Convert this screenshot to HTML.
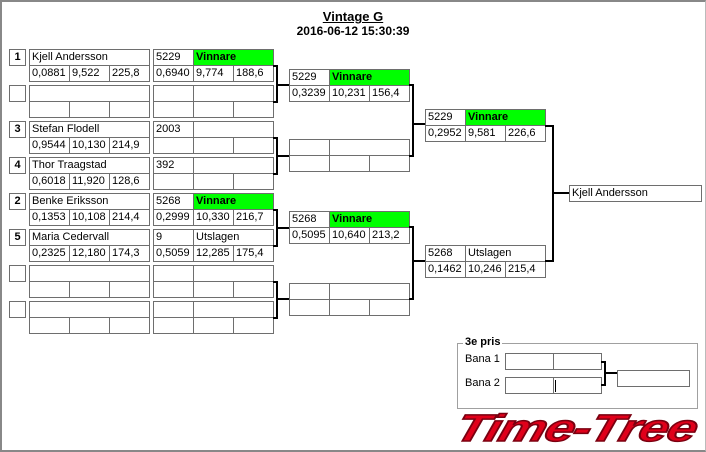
<!DOCTYPE html>
<html><head><meta charset="utf-8"><style>
body{margin:0;width:706px;height:452px;background:#fff;position:relative;overflow:hidden;font-family:"Liberation Sans",sans-serif;font-size:11px;color:#000}
.frame{position:absolute;left:0;top:0;width:706px;height:452px;box-sizing:border-box;border:2px solid #888;border-right:1px solid #bbb}
.c{position:absolute;box-sizing:border-box;border:1px solid #6e6e6e;height:17px;line-height:15px;padding-left:2px;white-space:nowrap;overflow:hidden;background:#fff}
.g{background:#00ff00;font-weight:bold}
.s{position:absolute;box-sizing:border-box;border:1px solid #6e6e6e;width:17px;height:17px;line-height:15px;text-align:center;font-weight:bold}
.br{position:absolute;box-sizing:border-box;border:2px solid #000;border-left:none}
.h{position:absolute;height:2px;background:#000}
.t{position:absolute;font-weight:bold;font-size:12px;text-align:center;width:706px;left:0}
</style></head><body>
<div class="frame"></div>
<div class="t" style="top:9px;text-decoration:underline;font-size:13px">Vintage G</div>
<div class="t" style="top:24px">2016-06-12 15:30:39</div>

<div class="s" style="left:9px;top:49px">1</div>
<div class="c" style="left:29px;top:49px;width:121px">Kjell Andersson</div>
<div class="c" style="left:29px;top:65px;width:41px">0,0881</div><div class="c" style="left:69px;top:65px;width:41px">9,522</div><div class="c" style="left:109px;top:65px;width:41px">225,8</div>
<div class="c" style="left:153px;top:49px;width:41px">5229</div><div class="c g" style="left:193px;top:49px;width:81px">Vinnare</div>
<div class="c" style="left:153px;top:65px;width:41px">0,6940</div><div class="c" style="left:193px;top:65px;width:41px">9,774</div><div class="c" style="left:233px;top:65px;width:41px">188,6</div>

<div class="s" style="left:9px;top:85px"></div>
<div class="c" style="left:29px;top:85px;width:121px"></div>
<div class="c" style="left:29px;top:101px;width:41px"></div><div class="c" style="left:69px;top:101px;width:41px"></div><div class="c" style="left:109px;top:101px;width:41px"></div>
<div class="c" style="left:153px;top:85px;width:41px"></div><div class="c" style="left:193px;top:85px;width:81px"></div>
<div class="c" style="left:153px;top:101px;width:41px"></div><div class="c" style="left:193px;top:101px;width:41px"></div><div class="c" style="left:233px;top:101px;width:41px"></div>

<div class="s" style="left:9px;top:121px">3</div>
<div class="c" style="left:29px;top:121px;width:121px">Stefan Flodell</div>
<div class="c" style="left:29px;top:137px;width:41px">0,9544</div><div class="c" style="left:69px;top:137px;width:41px">10,130</div><div class="c" style="left:109px;top:137px;width:41px">214,9</div>
<div class="c" style="left:153px;top:121px;width:41px">2003</div><div class="c" style="left:193px;top:121px;width:81px"></div>
<div class="c" style="left:153px;top:137px;width:41px"></div><div class="c" style="left:193px;top:137px;width:41px"></div><div class="c" style="left:233px;top:137px;width:41px"></div>

<div class="s" style="left:9px;top:157px">4</div>
<div class="c" style="left:29px;top:157px;width:121px">Thor Traagstad</div>
<div class="c" style="left:29px;top:173px;width:41px">0,6018</div><div class="c" style="left:69px;top:173px;width:41px">11,920</div><div class="c" style="left:109px;top:173px;width:41px">128,6</div>
<div class="c" style="left:153px;top:157px;width:41px">392</div><div class="c" style="left:193px;top:157px;width:81px"></div>
<div class="c" style="left:153px;top:173px;width:41px"></div><div class="c" style="left:193px;top:173px;width:41px"></div><div class="c" style="left:233px;top:173px;width:41px"></div>

<div class="s" style="left:9px;top:193px">2</div>
<div class="c" style="left:29px;top:193px;width:121px">Benke Eriksson</div>
<div class="c" style="left:29px;top:209px;width:41px">0,1353</div><div class="c" style="left:69px;top:209px;width:41px">10,108</div><div class="c" style="left:109px;top:209px;width:41px">214,4</div>
<div class="c" style="left:153px;top:193px;width:41px">5268</div><div class="c g" style="left:193px;top:193px;width:81px">Vinnare</div>
<div class="c" style="left:153px;top:209px;width:41px">0,2999</div><div class="c" style="left:193px;top:209px;width:41px">10,330</div><div class="c" style="left:233px;top:209px;width:41px">216,7</div>

<div class="s" style="left:9px;top:229px">5</div>
<div class="c" style="left:29px;top:229px;width:121px">Maria Cedervall</div>
<div class="c" style="left:29px;top:245px;width:41px">0,2325</div><div class="c" style="left:69px;top:245px;width:41px">12,180</div><div class="c" style="left:109px;top:245px;width:41px">174,3</div>
<div class="c" style="left:153px;top:229px;width:41px">9</div><div class="c" style="left:193px;top:229px;width:81px">Utslagen</div>
<div class="c" style="left:153px;top:245px;width:41px">0,5059</div><div class="c" style="left:193px;top:245px;width:41px">12,285</div><div class="c" style="left:233px;top:245px;width:41px">175,4</div>

<div class="s" style="left:9px;top:265px"></div>
<div class="c" style="left:29px;top:265px;width:121px"></div>
<div class="c" style="left:29px;top:281px;width:41px"></div><div class="c" style="left:69px;top:281px;width:41px"></div><div class="c" style="left:109px;top:281px;width:41px"></div>
<div class="c" style="left:153px;top:265px;width:41px"></div><div class="c" style="left:193px;top:265px;width:81px"></div>
<div class="c" style="left:153px;top:281px;width:41px"></div><div class="c" style="left:193px;top:281px;width:41px"></div><div class="c" style="left:233px;top:281px;width:41px"></div>

<div class="s" style="left:9px;top:301px"></div>
<div class="c" style="left:29px;top:301px;width:121px"></div>
<div class="c" style="left:29px;top:317px;width:41px"></div><div class="c" style="left:69px;top:317px;width:41px"></div><div class="c" style="left:109px;top:317px;width:41px"></div>
<div class="c" style="left:153px;top:301px;width:41px"></div><div class="c" style="left:193px;top:301px;width:81px"></div>
<div class="c" style="left:153px;top:317px;width:41px"></div><div class="c" style="left:193px;top:317px;width:41px"></div><div class="c" style="left:233px;top:317px;width:41px"></div>

<div class="br" style="left:273px;top:65px;width:5px;height:38px"></div><div class="h" style="left:277px;top:84px;width:12px"></div>
<div class="br" style="left:273px;top:137px;width:5px;height:38px"></div><div class="h" style="left:277px;top:155px;width:12px"></div>
<div class="br" style="left:273px;top:209px;width:5px;height:38px"></div><div class="h" style="left:277px;top:227px;width:12px"></div>
<div class="br" style="left:273px;top:281px;width:5px;height:38px"></div><div class="h" style="left:277px;top:298px;width:12px"></div>

<div class="c" style="left:289px;top:69px;width:41px">5229</div><div class="c g" style="left:329px;top:69px;width:81px">Vinnare</div>
<div class="c" style="left:289px;top:85px;width:41px">0,3239</div><div class="c" style="left:329px;top:85px;width:41px">10,231</div><div class="c" style="left:369px;top:85px;width:41px">156,4</div>

<div class="c" style="left:289px;top:139px;width:41px"></div><div class="c" style="left:329px;top:139px;width:81px"></div>
<div class="c" style="left:289px;top:155px;width:41px"></div><div class="c" style="left:329px;top:155px;width:41px"></div><div class="c" style="left:369px;top:155px;width:41px"></div>

<div class="c" style="left:289px;top:211px;width:41px">5268</div><div class="c g" style="left:329px;top:211px;width:81px">Vinnare</div>
<div class="c" style="left:289px;top:227px;width:41px">0,5095</div><div class="c" style="left:329px;top:227px;width:41px">10,640</div><div class="c" style="left:369px;top:227px;width:41px">213,2</div>

<div class="c" style="left:289px;top:283px;width:41px"></div><div class="c" style="left:329px;top:283px;width:81px"></div>
<div class="c" style="left:289px;top:299px;width:41px"></div><div class="c" style="left:329px;top:299px;width:41px"></div><div class="c" style="left:369px;top:299px;width:41px"></div>

<div class="br" style="left:409px;top:84px;width:5px;height:73px"></div><div class="h" style="left:413px;top:123px;width:12px"></div>
<div class="br" style="left:409px;top:226px;width:5px;height:74px"></div><div class="h" style="left:413px;top:260px;width:12px"></div>

<div class="c" style="left:425px;top:109px;width:41px">5229</div><div class="c g" style="left:465px;top:109px;width:81px">Vinnare</div>
<div class="c" style="left:425px;top:125px;width:41px">0,2952</div><div class="c" style="left:465px;top:125px;width:41px">9,581</div><div class="c" style="left:505px;top:125px;width:41px">226,6</div>

<div class="c" style="left:425px;top:245px;width:41px">5268</div><div class="c" style="left:465px;top:245px;width:81px">Utslagen</div>
<div class="c" style="left:425px;top:261px;width:41px">0,1462</div><div class="c" style="left:465px;top:261px;width:41px">10,246</div><div class="c" style="left:505px;top:261px;width:41px">215,4</div>

<div class="br" style="left:545px;top:125px;width:9px;height:137px"></div><div class="h" style="left:553px;top:192px;width:17px"></div>
<div class="c" style="left:569px;top:185px;width:133px">Kjell Andersson</div>

<div style="position:absolute;left:457px;top:343px;width:241px;height:66px;box-sizing:border-box;border:1px solid #a0a0a0"></div>
<div style="position:absolute;left:463px;top:336px;background:#fff;padding:0 2px;font-weight:bold">3e pris</div>
<div style="position:absolute;left:465px;top:353px">Bana 1</div>
<div style="position:absolute;left:465px;top:377px">Bana 2</div>
<div class="c" style="left:505px;top:353px;width:49px"></div><div class="c" style="left:553px;top:353px;width:49px"></div>
<div class="c" style="left:505px;top:377px;width:49px"></div><div class="c" style="left:553px;top:377px;width:49px"></div>
<div style="position:absolute;left:555px;top:380px;width:1px;height:12px;background:#000"></div>
<div class="br" style="left:601px;top:361px;width:5px;height:25px"></div><div class="h" style="left:605px;top:372px;width:13px"></div>
<div class="c" style="left:617px;top:370px;width:73px"></div>

<div style="position:absolute;left:462px;top:410px;width:170px;white-space:nowrap;font-family:'Liberation Sans',sans-serif;font-weight:bold;font-style:italic;font-size:38px;line-height:38px;color:#e0001a;letter-spacing:-1px;transform-origin:0 0;transform:scaleX(1.4) skewX(-12deg);-webkit-text-stroke:1.5px #7a0010">Time-Tree</div>
</body></html>
